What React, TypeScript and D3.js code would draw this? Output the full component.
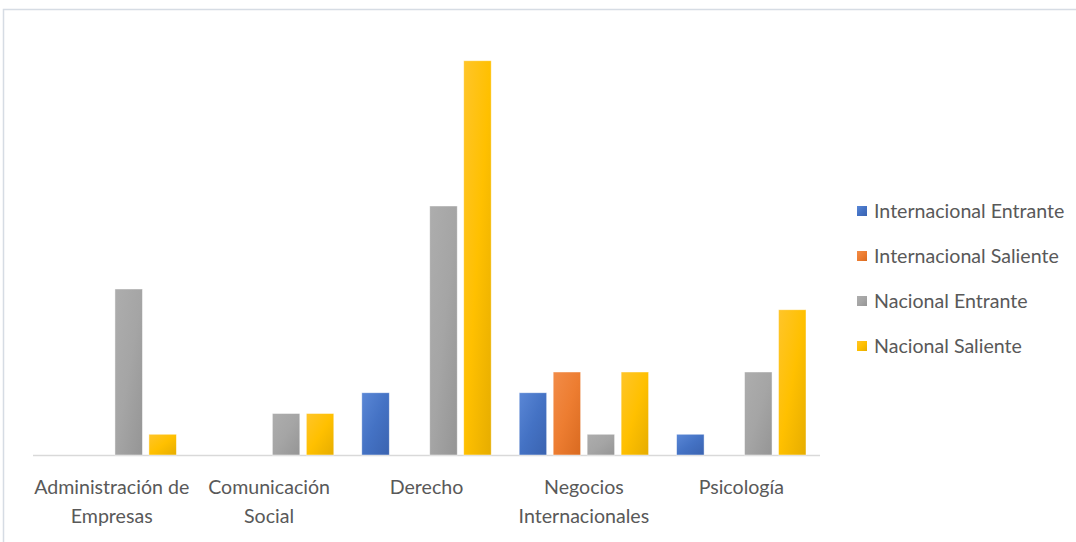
import React from "react";
import * as d3 from "d3";

const categories: string[][] = [
  ["Administración de", "Empresas"],
  ["Comunicación", "Social"],
  ["Derecho"],
  ["Negocios", "Internacionales"],
  ["Psicología"],
];
const seriesNames = ["Internacional Entrante", "Internacional Saliente", "Nacional Entrante", "Nacional Saliente"];
const internacionalEntrante = [0, 0, 3, 3, 1];
const internacionalSaliente = [0, 0, 0, 4, 0];
const nacionalEntrante = [8, 2, 12, 1, 4];
const nacionalSaliente = [1, 2, 19, 4, 7];
const seriesValues = [internacionalEntrante, internacionalSaliente, nacionalEntrante, nacionalSaliente];
const colors = [
  { light: "#5a87d6", base: "#4472C4", dark: "#3a63b0" },
  { light: "#f28c48", base: "#ED7D31", dark: "#d96a20" },
  { light: "#adadad", base: "#A5A5A5", dark: "#959595" },
  { light: "#ffc52a", base: "#FFC000", dark: "#e6ad00" },
];
const yMax = 20;

export default function App() {
  const W = 1076, H = 542;
  const left = 33, right = 820, base = 455, top = 40;
  const x0 = d3.scaleBand<number>().domain(d3.range(categories.length)).range([left, right]).padding(0);
  const gap = 14;
  const x1 = d3.scaleBand<number>().domain(d3.range(seriesNames.length)).range([gap, x0.bandwidth() - gap]).paddingInner(0.191).paddingOuter(0);
  const y = d3.scaleLinear().domain([0, yMax]).range([base, top]);
  const font = "Lato, 'Open Sans', sans-serif";
  const textColor = "#595959";

  return (
    <div style={{ position: "fixed", left: 0, top: 0 }}>
      <svg width={W} height={H} style={{ display: "block", background: "#fff" }}>
        <defs>
          {colors.map((c, i) => (
            <linearGradient key={i} id={`g${i}`} x1="0" y1="0" x2="1" y2="1">
              <stop offset="0" stopColor={c.light} />
              <stop offset="0.5" stopColor={c.base} />
              <stop offset="1" stopColor={c.dark} />
            </linearGradient>
          ))}
        </defs>
        <rect x={3.5} y={9.5} width={W + 10} height={H + 10} fill="none" stroke="#d6dce4" strokeWidth={1.5} />
        <line x1={left} x2={right} y1={base + 0.5} y2={base + 0.5} stroke="#d9d9d9" strokeWidth={1.5} />
        {categories.map((cat, ci) => (
          <g key={ci} transform={`translate(${x0(ci)},0)`}>
            {seriesValues.map((vals, si) =>
              vals[ci] > 0 ? (
                <rect
                  key={si}
                  x={x1(si)}
                  y={y(vals[ci])}
                  width={x1.bandwidth()}
                  height={base - y(vals[ci])}
                  fill={`url(#g${si})`}
                  stroke="#ffffff"
                  strokeOpacity={0.6}
                  strokeWidth={0.75}
                />
              ) : null
            )}
            {cat.map((line, li) => (
              <text
                key={li}
                x={x0.bandwidth() / 2}
                y={494 + li * 29}
                textAnchor="middle"
                fontFamily={font}
                fontSize={19.6}
                fill={textColor}
              >
                {line}
              </text>
            ))}
          </g>
        ))}
        {seriesNames.map((s, i) => (
          <g key={s} transform={`translate(857,${211 + i * 45})`}>
            <rect x={0} y={-5} width={10} height={10} fill={`url(#g${i})`} />
            <text x={17} y={6.8} fontFamily={font} fontSize={19.6} fill={textColor}>
              {s}
            </text>
          </g>
        ))}
      </svg>
    </div>
  );
}
